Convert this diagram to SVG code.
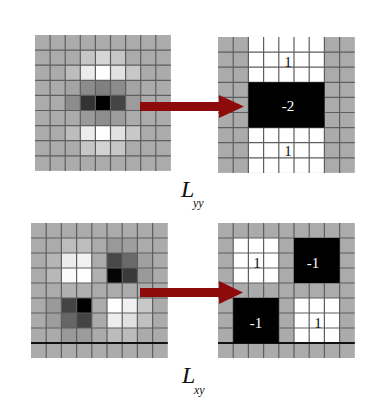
<svg xmlns="http://www.w3.org/2000/svg" width="374" height="406" viewBox="0 0 374 406">
<style>
.base{fill:#ababab}
.gl{stroke:#5e5e5e;stroke-width:1.2;fill:none}
.thick{stroke:#111;stroke-width:2;fill:none}
.num{font-family:"Liberation Serif",serif;font-size:15px;text-anchor:middle;fill:#111}
.inv{fill:#fff}
.lab{font-family:"Liberation Serif",serif;font-style:italic;fill:#111}
.arrow{fill:#8e0b0b}
</style>
<rect width="374" height="406" fill="#fff"/>

<g id="lyy-filter" transform="translate(35,35) scale(1.51,1.51)">
<rect class="base" x="0" y="0" width="90" height="90"/>
<rect x="30" y="10" width="10" height="10" fill="#c6c6c6"/>
<rect x="40" y="10" width="10" height="10" fill="#d6d6d6"/>
<rect x="50" y="10" width="10" height="10" fill="#c6c6c6"/>
<rect x="20" y="20" width="10" height="10" fill="#bdbdbd"/>
<rect x="30" y="20" width="10" height="10" fill="#ececec"/>
<rect x="40" y="20" width="10" height="10" fill="#ffffff"/>
<rect x="50" y="20" width="10" height="10" fill="#e2e2e2"/>
<rect x="60" y="20" width="10" height="10" fill="#c8c8c8"/>
<rect x="20" y="30" width="10" height="10" fill="#a4a4a4"/>
<rect x="30" y="30" width="10" height="10" fill="#8c8c8c"/>
<rect x="40" y="30" width="10" height="10" fill="#808080"/>
<rect x="50" y="30" width="10" height="10" fill="#8c8c8c"/>
<rect x="60" y="30" width="10" height="10" fill="#a4a4a4"/>
<rect x="20" y="40" width="10" height="10" fill="#8c8c8c"/>
<rect x="30" y="40" width="10" height="10" fill="#333333"/>
<rect x="40" y="40" width="10" height="10" fill="#000000"/>
<rect x="50" y="40" width="10" height="10" fill="#444444"/>
<rect x="60" y="40" width="10" height="10" fill="#9c9c9c"/>
<rect x="30" y="50" width="10" height="10" fill="#9a9a9a"/>
<rect x="40" y="50" width="10" height="10" fill="#8e8e8e"/>
<rect x="50" y="50" width="10" height="10" fill="#9c9c9c"/>
<rect x="20" y="60" width="10" height="10" fill="#bdbdbd"/>
<rect x="30" y="60" width="10" height="10" fill="#ececec"/>
<rect x="40" y="60" width="10" height="10" fill="#ffffff"/>
<rect x="50" y="60" width="10" height="10" fill="#e2e2e2"/>
<rect x="60" y="60" width="10" height="10" fill="#c8c8c8"/>
<rect x="30" y="70" width="10" height="10" fill="#c6c6c6"/>
<rect x="40" y="70" width="10" height="10" fill="#d2d2d2"/>
<rect x="50" y="70" width="10" height="10" fill="#c6c6c6"/>
<path class="gl" vector-effect="non-scaling-stroke" d="M10 0V90M20 0V90M30 0V90M40 0V90M50 0V90M60 0V90M70 0V90M80 0V90M0 10H90M0 20H90M0 30H90M0 40H90M0 50H90M0 60H90M0 70H90M0 80H90"/>
</g>

<g id="lyy-approx" transform="translate(218,37) scale(1.52,1.51)">
<rect class="base" x="0" y="0" width="90" height="90"/>
<rect x="20" y="0" width="50" height="30" fill="#fff"/>
<rect x="20" y="60" width="50" height="30" fill="#fff"/>
<path class="gl" vector-effect="non-scaling-stroke" d="M10 0V90M20 0V90M30 0V90M40 0V90M50 0V90M60 0V90M70 0V90M80 0V90M0 10H90M0 20H90M0 30H90M0 40H90M0 50H90M0 60H90M0 70H90M0 80H90"/>
<rect x="20" y="30" width="50" height="30" fill="#000"/>
</g>
<g id="lyy-values">
<text class="num" x="288" y="67">1</text>
<text class="num inv" x="288" y="111">-2</text>
<text class="num" x="288" y="156">1</text>
</g>

<g id="lxy-filter" transform="translate(31,223) scale(1.52,1.5)">
<rect class="base" x="0" y="0" width="90" height="90"/>
<rect x="20" y="10" width="10" height="10" fill="#bdbdbd"/>
<rect x="30" y="10" width="10" height="10" fill="#bdbdbd"/>
<rect x="50" y="10" width="10" height="10" fill="#999999"/>
<rect x="60" y="10" width="10" height="10" fill="#9e9e9e"/>
<rect x="10" y="20" width="10" height="10" fill="#b5b5b5"/>
<rect x="20" y="20" width="10" height="10" fill="#ececec"/>
<rect x="30" y="20" width="10" height="10" fill="#f2f2f2"/>
<rect x="50" y="20" width="10" height="10" fill="#484848"/>
<rect x="60" y="20" width="10" height="10" fill="#6a6a6a"/>
<rect x="70" y="20" width="10" height="10" fill="#a0a0a0"/>
<rect x="10" y="30" width="10" height="10" fill="#b8b8b8"/>
<rect x="20" y="30" width="10" height="10" fill="#fafafa"/>
<rect x="30" y="30" width="10" height="10" fill="#ffffff"/>
<rect x="40" y="30" width="10" height="10" fill="#b0b0b0"/>
<rect x="50" y="30" width="10" height="10" fill="#050505"/>
<rect x="60" y="30" width="10" height="10" fill="#3a3a3a"/>
<rect x="70" y="30" width="10" height="10" fill="#9a9a9a"/>
<rect x="20" y="40" width="10" height="10" fill="#b0b0b0"/>
<rect x="30" y="40" width="10" height="10" fill="#b0b0b0"/>
<rect x="10" y="50" width="10" height="10" fill="#9a9a9a"/>
<rect x="20" y="50" width="10" height="10" fill="#444444"/>
<rect x="30" y="50" width="10" height="10" fill="#000000"/>
<rect x="50" y="50" width="10" height="10" fill="#ffffff"/>
<rect x="60" y="50" width="10" height="10" fill="#f0f0f0"/>
<rect x="70" y="50" width="10" height="10" fill="#c8c8c8"/>
<rect x="10" y="60" width="10" height="10" fill="#9e9e9e"/>
<rect x="20" y="60" width="10" height="10" fill="#666666"/>
<rect x="30" y="60" width="10" height="10" fill="#444444"/>
<rect x="50" y="60" width="10" height="10" fill="#eeeeee"/>
<rect x="60" y="60" width="10" height="10" fill="#e0e0e0"/>
<rect x="70" y="60" width="10" height="10" fill="#c0c0c0"/>
<rect x="20" y="70" width="10" height="10" fill="#999999"/>
<rect x="30" y="70" width="10" height="10" fill="#9c9c9c"/>
<rect x="50" y="70" width="10" height="10" fill="#bcbcbc"/>
<rect x="60" y="70" width="10" height="10" fill="#bcbcbc"/>
<path class="gl" vector-effect="non-scaling-stroke" d="M10 0V90M20 0V90M30 0V90M40 0V90M50 0V90M60 0V90M70 0V90M80 0V90M0 10H90M0 20H90M0 30H90M0 40H90M0 50H90M0 60H90M0 70H90"/>
<path class="thick" vector-effect="non-scaling-stroke" d="M0 80H90"/>
</g>

<g id="lxy-approx" transform="translate(218,223) scale(1.52,1.5)">
<rect class="base" x="0" y="0" width="90" height="90"/>
<rect x="10" y="10" width="30" height="30" fill="#fff"/>
<rect x="50" y="50" width="30" height="30" fill="#fff"/>
<path class="gl" vector-effect="non-scaling-stroke" d="M10 0V90M20 0V90M30 0V90M40 0V90M50 0V90M60 0V90M70 0V90M80 0V90M0 10H90M0 20H90M0 30H90M0 40H90M0 50H90M0 60H90M0 70H90"/>
<path class="thick" vector-effect="non-scaling-stroke" d="M0 80H90"/>
<rect x="50" y="10" width="30" height="30" fill="#000"/>
<rect x="10" y="50" width="30" height="30" fill="#000"/>
</g>
<g id="lxy-values">
<text class="num" x="257" y="268">1</text>
<text class="num inv" x="313" y="268">-1</text>
<text class="num inv" x="256" y="328">-1</text>
<text class="num" x="318" y="328">1</text>
</g>

<g id="connectors">
<path class="arrow" d="M140 102H219V95L244 106.5L219 118V111H140Z"/>
<path class="arrow" d="M140 288H219V281L243 292.5L219 304V297H140Z"/>
</g>

<g id="label-lyy">
<text class="lab" x="181" y="197" font-size="24">L</text>
<text class="lab" x="193" y="207" font-size="12">yy</text>
</g>
<g id="label-lxy">
<text class="lab" x="182" y="383" font-size="24">L</text>
<text class="lab" x="194" y="394" font-size="12">xy</text>
</g>
</svg>
